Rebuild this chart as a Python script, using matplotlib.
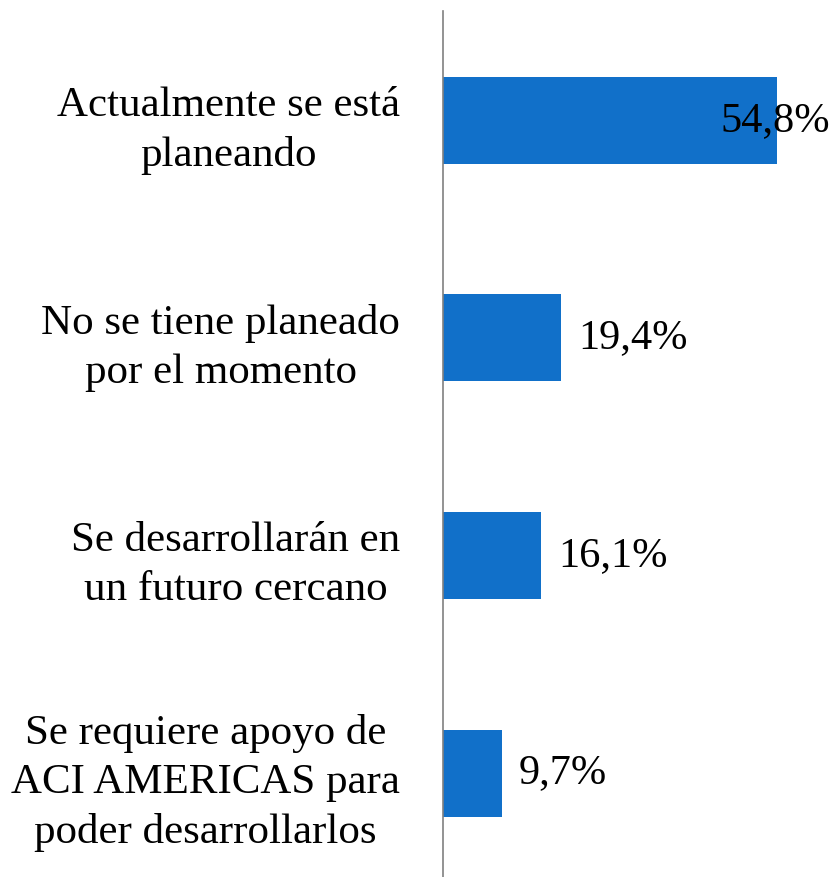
import matplotlib
matplotlib.use("Agg")
import matplotlib.pyplot as plt

categories = [
    "Actualmente se está\nplaneando",
    "No se tiene planeado\npor el momento",
    "Se desarrollarán en\nun futuro cercano",
    "Se requiere apoyo de\nACI AMERICAS para\npoder desarrollarlos",
]
values = [54.8, 19.4, 16.1, 9.7]
value_labels = ["54,8%", "19,4%", "16,1%", "9,7%"]

plt.rcParams['font.family'] = ['Liberation Serif', 'DejaVu Serif']

fig = plt.figure(figsize=(8.36, 8.77), dpi=100)
ax = fig.add_axes([443/836, 0.0, 1 - 443/836, 1 - 11/877])

pos = list(range(len(categories)))
ax.barh(pos, values, height=0.4, color="#1170C9")
ax.set_xlim(0, 64.5)
ax.set_ylim(3.478, -0.503)

ax.set_yticks(pos)
ax.set_yticklabels(categories, fontsize=31, linespacing=1.37)
for t in ax.get_yticklabels():
    t.set_multialignment('center')
ax.tick_params(axis='y', length=0, pad=31)
ax.tick_params(axis='x', length=0, labelbottom=False)
for s in ['top', 'right', 'bottom']:
    ax.spines[s].set_visible(False)
ax.spines['left'].set_color('#808080')
ax.spines['left'].set_linewidth(1.2)

fig.canvas.draw()
renderer = fig.canvas.get_renderer()
for p, v, lab in zip(pos, values, value_labels):
    t = ax.annotate(lab, xy=(v, p), xytext=(12, 0), textcoords='offset points',
                    ha='left', va='center', fontsize=30.5, color='black',
                    annotation_clip=False)
    bb = t.get_window_extent(renderer)
    if bb.x1 > fig.bbox.width - 5:
        t.remove()
        ax.annotate(lab, xy=(1.0, p), xycoords=('axes fraction', 'data'),
                    xytext=(-4, 0), textcoords='offset points',
                    ha='right', va='center', fontsize=30.5, color='black',
                    annotation_clip=False)

fig.savefig("out.png", dpi=100)
